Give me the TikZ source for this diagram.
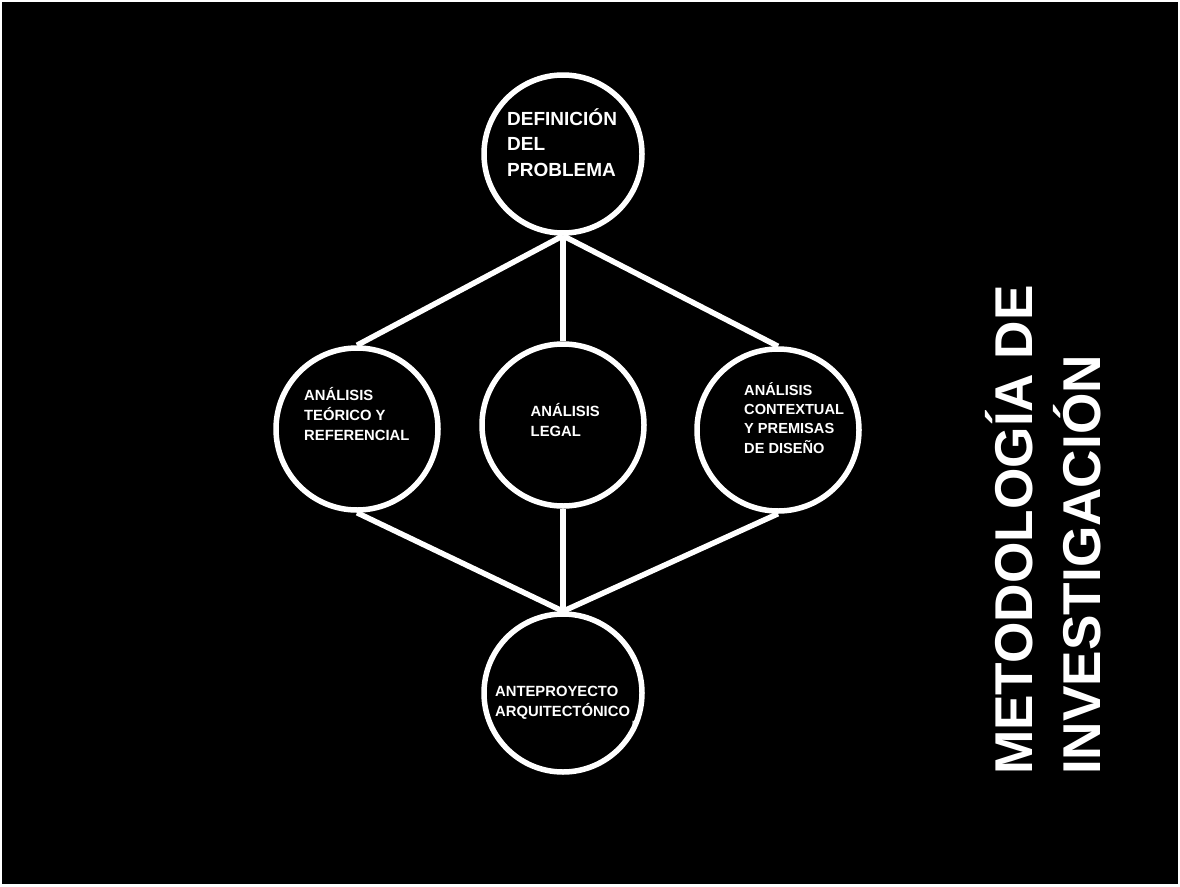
\documentclass[tikz,border=0pt]{standalone}
\usepackage{fontspec}
\setmainfont{Liberation Sans}
\begin{document}
\begin{tikzpicture}[x=1pt,y=-1pt,
  ring/.style={circle,draw=white,line width=5.5pt,inner sep=0pt,minimum size=#1},
  link/.style={draw=white,line width=5.5pt},
  lbl/.style={anchor=base west,inner sep=0pt,text=white,align=left,font=\bfseries\fontsize{14.8}{19.8}\selectfont},
  biglbl/.style={anchor=base west,inner sep=0pt,text=white,align=left,font=\bfseries\fontsize{19}{25.5}\selectfont},
  title/.style={anchor=base west,inner sep=0pt,text=white,align=left,rotate=90,font=\bfseries\fontsize{53.2}{68}\selectfont}]
\fill[white] (0,0) rectangle (1180,886);
\fill[black] (2,2) rectangle (1178,884);
\useasboundingbox (0,0) rectangle (1180,886);
% tiny stray glyph
\node[anchor=base west,inner sep=0pt,text=white,font=\bfseries\fontsize{8}{8}\selectfont] (stray) at (632,725) {n};
% circles
\node[ring=158pt] (top) at (563,154) {};
\node[ring=162pt] (left) at (357,429) {};
\node[ring=162pt] (mid) at (563,425) {};
\node[ring=162pt] (right) at (778,430) {};
\node[ring=158pt] (bot) at (563,693) {};
% connectors
\draw[link] (top.south) -- (left.north);
\draw[link] (top.south) -- (mid.north);
\draw[link] (top.south) -- (right.north);
\draw[link] (left.south) -- (bot.north);
\draw[link] (mid.south) -- (bot.north);
\draw[link] (right.south) -- (bot.north);
% texts (anchor = baseline of the last line)
\node[biglbl] (ttop) at (507,176) {DEFINICIÓN\\DEL\\PROBLEMA};
\node[lbl] (tleft) at (304,440.5) {ANÁLISIS\\TEÓRICO Y\\REFERENCIAL};
\node[lbl] (tmid) at (530.5,436.3) {ANÁLISIS\\LEGAL};
\node[lbl,font=\bfseries\fontsize{14.6}{19.3}\selectfont] (tright) at (744,453) {ANÁLISIS\\CONTEXTUAL\\Y PREMISAS\\DE DISEÑO};
\node[lbl] (tbot) at (495,716) {ANTEPROYECTO\\ARQUITECTÓNICO};
\node[title] (ttitle) at (1100,775) {METODOLOGÍA DE\\INVESTIGACIÓN};
\end{tikzpicture}
\end{document}
